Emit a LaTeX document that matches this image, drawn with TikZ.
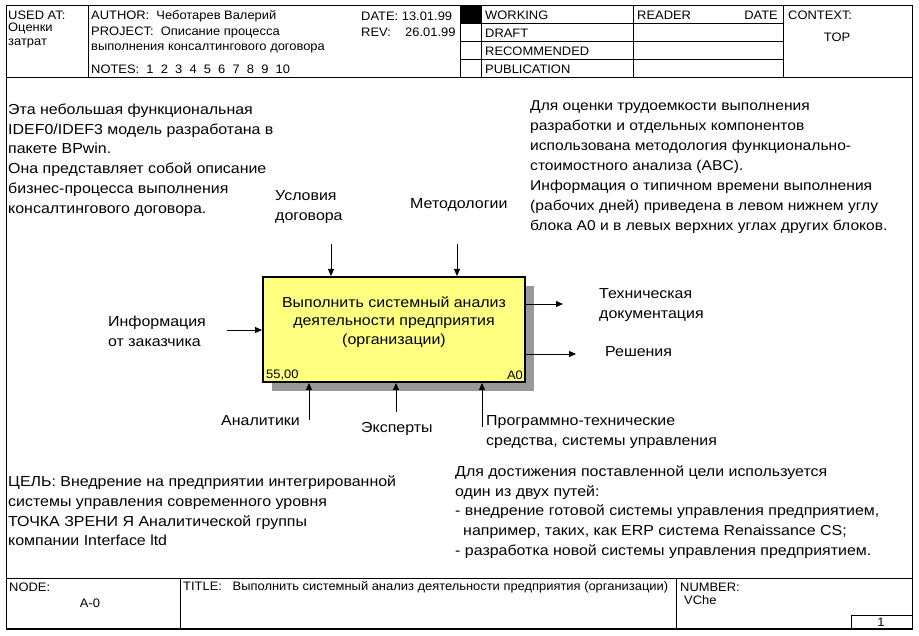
\documentclass[tikz,border=0pt]{standalone}
\usepackage{fontspec}
\setmainfont{Liberation Sans}
\newfontfamily\bodyfont{Liberation Sans}[FakeStretch=1.1]
\newfontfamily\formfont{Liberation Sans}[FakeStretch=1.05]
\usetikzlibrary{arrows.meta,patterns}
\definecolor{idefyellow}{RGB}{255,255,128}

\tikzset{
  formline/.style={line width=1pt},
  hdrtext/.style={anchor=west, inner sep=0pt, font=\formfont\fontsize{12.3}{15}\selectfont},
  bodytext/.style={anchor=west, inner sep=0pt, align=left, font=\bodyfont\fontsize{14.5}{19.7}\selectfont},
  arc/.style={line width=0.9pt, -{Triangle[length=7pt,width=6pt]}},
  actbox/.style={draw, line width=2pt, fill=idefyellow, minimum width=262pt,
    minimum height=105pt, inner sep=0pt},
}

\begin{document}
\begin{tikzpicture}[x=1pt,y=-1pt]
\useasboundingbox (0,0) rectangle (919,636);

% form frame
\draw[formline] (6,6) rectangle (912,629);
\draw[line width=2pt] (6,629) -- (912,629);
\draw[formline] (6,78) -- (912,78);
\foreach \xx in {88,460,481,633,783} \draw[formline] (\xx,6) -- (\xx,78);
\foreach \yy in {24,42,60} \draw[formline] (460,\yy) -- (783,\yy);
\fill (460,6) rectangle (481,24);
\draw[formline] (6,578) -- (912,578);
\foreach \xx in {180,676} \draw[formline] (\xx,578) -- (\xx,629);
\draw[formline] (851,615) rectangle (912,629);

% header
\node[hdrtext] (usedat) at (8,15) {USED AT:};
\node[hdrtext] (usedat1) at (8,28) {Оценки};
\node[hdrtext] (usedat2) at (8,43) {затрат};
\node[hdrtext] (author) at (91,16) {AUTHOR:\ \ Чеботарев Валерий};
\node[hdrtext] (project) at (91,32) {PROJECT:\ \ Описание процесса};
\node[hdrtext] (project2) at (91,48) {выполнения консалтингового договора};
\node[hdrtext] (notes) at (91,69) {NOTES:\ \ 1\ \ 2\ \ 3\ \ 4\ \ 5\ \ 6\ \ 7\ \ 8\ \ 9\ \ 10};
\node[hdrtext] (date) at (361,16) {DATE: 13.01.99};
\node[hdrtext] (rev) at (361,32) {REV:\ \ \ \ 26.01.99};
\node[hdrtext] (working) at (485,15) {WORKING};
\node[hdrtext] (draft) at (485,33) {DRAFT};
\node[hdrtext] (recomm) at (485,51) {RECOMMENDED};
\node[hdrtext] (public) at (485,69) {PUBLICATION};
\node[hdrtext] (reader) at (637,15) {READER};
\node[hdrtext, anchor=east] (rdate) at (778,15) {DATE};
\node[hdrtext] (context) at (788,15) {CONTEXT:};
\node[hdrtext, anchor=center] (top) at (837,37) {TOP};

% footer
\node[hdrtext] (nodelbl) at (9,587) {NODE:};
\node[hdrtext, anchor=center] (nodeno) at (90,603) {A-0};
\node[hdrtext] (title) at (183,587) {TITLE:\ \ \ Выполнить системный анализ деятельности предприятия (организации)};
\node[hdrtext] (number) at (680,587) {NUMBER:};
\node[hdrtext] (vche) at (684,600) {VChe};
\node[hdrtext, anchor=center] (pageno) at (881,622) {1};

% notes around the diagram
\node[bodytext] (intro) at (8,160) {Эта небольшая функциональная\\IDEF0/IDEF3 модель разработана в\\пакете BPwin.\\Она представляет собой описание\\бизнес-процесса выполнения\\консалтингового договора.};
\node[bodytext, font=\bodyfont\fontsize{14.2}{19.9}\selectfont] (abc) at (530,167) {Для оценки трудоемкости выполнения\\разработки и отдельных компонентов\\использована методология функционально-\\стоимостного анализа (ABC).\\Информация о типичном времени выполнения\\(рабочих дней) приведена в левом нижнем углу\\блока A0 и в левых верхних углах других блоков.};
\node[bodytext] (goal) at (8,511) {ЦЕЛЬ: Внедрение на предприятии интегрированной\\системы управления современного уровня\\ТОЧКА ЗРЕНИ Я Аналитической группы\\компании Interface ltd};
\node[bodytext] (ways) at (455,512) {Для достижения поставленной цели используется\\один из двух путей:\\- внедрение готовой системы управления предприятием,\\\hspace*{8pt}например, таких, как ERP система Renaissance CS;\\- разработка новой системы управления предприятием.};

% activity box A0
\fill[black!40] (272,286) rectangle (534,391);
\node[actbox] (a0) at (394,329.5) {};
\node[bodytext, anchor=center, align=center, font=\bodyfont\fontsize{14.5}{18.5}\selectfont] (a0txt) at (394,322)
  {Выполнить системный анализ\\деятельности предприятия\\(организации)};
\node[hdrtext, anchor=south west, inner xsep=4pt, inner ysep=3pt] (a0cost) at (a0.south west) {55,00};
\node[hdrtext, anchor=south east, inner xsep=3pt, inner ysep=3pt] (a0num) at (a0.south east) {A0};

% arrow ends
\coordinate (ctl1) at (331,244);
\coordinate (ctl2) at (457,244);
\coordinate (inp) at (227,330);
\coordinate (out1) at (563,304);
\coordinate (out2) at (576,354);
\coordinate (mech1) at (309,420);
\coordinate (mech2) at (396,412);
\coordinate (mech3) at (482,427);

\draw[arc] (ctl1) -- (ctl1 |- a0.north);
\draw[arc] (ctl2) -- (ctl2 |- a0.north);
\draw[arc] (inp) -- (inp -| a0.west);
\draw[arc] (out1 -| a0.east) -- (out1);
\draw[arc] (out2 -| a0.east) -- (out2);
\draw[arc] (mech1) -- (mech1 |- a0.south);
\draw[arc] (mech2) -- (mech2 |- a0.south);
\draw[arc] (mech3) -- (mech3 |- a0.south);

% arrow labels
\node[bodytext] (ctl1lbl) at (275,207) {Условия\\договора};
\node[bodytext] (ctl2lbl) at (410,205) {Методологии};
\node[bodytext] (inplbl) at (108,331) {Информация\\от заказчика};
\node[bodytext] (out1lbl) at (599,305) {Техническая\\документация};
\node[bodytext] (out2lbl) at (605,352) {Решения};
\node[bodytext] (mech1lbl) at (221,421) {Аналитики};
\node[bodytext] (mech2lbl) at (361,429) {Эксперты};
\node[bodytext] (mech3lbl) at (486,432) {Программно-технические\\средства, системы управления};
\end{tikzpicture}
\end{document}
